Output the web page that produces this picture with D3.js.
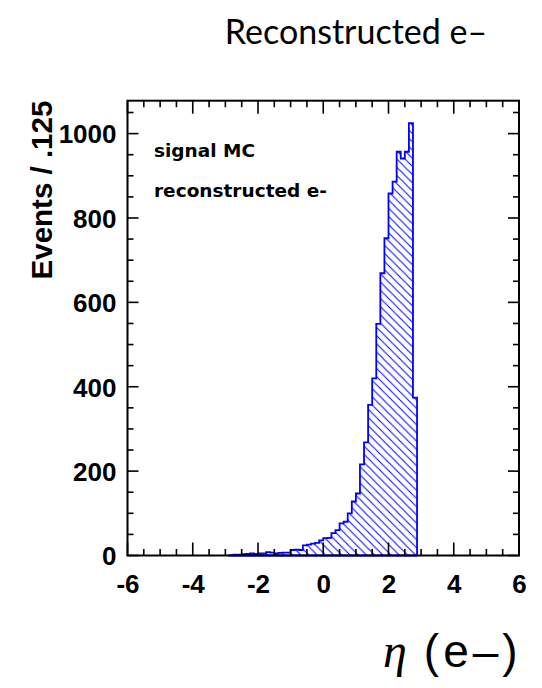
<!DOCTYPE html>
<html>
<head>
<meta charset="utf-8">
<script src="https://cdn.jsdelivr.net/npm/d3@7"></script>
<style>
  html, body { margin: 0; padding: 0; background: #fff; }
  svg { display: block; }
</style>
</head>
<body>
<svg id="chart" width="542" height="688"></svg>
<script>
// ---- data ----
const titleText = "Reconstructed e\u2013";
const yTitle = "Events / .125";
const legendLines = ["signal MC", "reconstructed e-"];
const binWidth = 0.125;
const firstBinLow = -2.875;
const binValues = [
  1, 2, 2, 3, 4, 5, 4, 5, 5, 8, 7, 5, 6, 7, 7, 13, 14, 13,
  24, 26, 28, 30, 36, 41, 42, 53, 60, 76, 80, 100, 128, 147,
  216, 268, 357, 420, 549, 669, 752, 858, 886, 957, 941, 957, 1025, 374
];
const xDomain = [-6, 6];
const yDomain = [0, 1078];
const xMajorTicks = [-6, -4, -2, 0, 2, 4, 6];
const xMinorTicks = d3.range(-6, 6.001, 0.5);
const yMajorTicks = [0, 200, 400, 600, 800, 1000];
const yMinorTicks = d3.range(0, 1051, 50);

// ---- layout ----
const frame = { left: 127.5, right: 519, top: 100.7, bottom: 555.5 };
const svg = d3.select("#chart");
const x = d3.scaleLinear().domain(xDomain).range([frame.left, frame.right]);
const y = d3.scaleLinear().domain(yDomain).range([frame.bottom, frame.top]);

// hatch pattern
const hs = 8.2;
const pat = svg.append("defs").append("pattern")
  .attr("id", "hatch").attr("patternUnits", "userSpaceOnUse")
  .attr("width", hs).attr("height", hs);
pat.append("path")
  .attr("d", `M0,0 L${hs},${hs} M${-hs/2},${hs/2} L${hs/2},${hs*1.5} M${hs/2},${-hs/2} L${hs*1.5},${hs/2}`)
  .attr("stroke", "#0000ff").attr("stroke-width", 1);

// histogram
const bins = binValues.map((v, i) => ({ x0: firstBinLow + i * binWidth, x1: firstBinLow + (i + 1) * binWidth, v }));
let d = `M${x(bins[0].x0)},${y(0)}`;
bins.forEach(b => { d += ` L${x(b.x0)},${y(b.v)} L${x(b.x1)},${y(b.v)}`; });
d += ` L${x(bins[bins.length - 1].x1)},${y(0)} Z`;
svg.append("path").attr("d", d)
  .attr("fill", "url(#hatch)")
  .attr("stroke", "#0000ff").attr("stroke-width", 1.8)
  .attr("stroke-linejoin", "miter");

// ticks (inward, on all four sides)
const tickG = svg.append("g").attr("stroke", "#000").attr("stroke-width", 1.6);
function vTick(v, len, atTop) {
  const px = x(v);
  if (atTop) tickG.append("line").attr("x1", px).attr("x2", px).attr("y1", frame.top).attr("y2", frame.top + len);
  else tickG.append("line").attr("x1", px).attr("x2", px).attr("y1", frame.bottom).attr("y2", frame.bottom - len);
}
function hTick(v, len, atRight) {
  const py = y(v);
  if (atRight) tickG.append("line").attr("x1", frame.right).attr("x2", frame.right - len).attr("y1", py).attr("y2", py);
  else tickG.append("line").attr("x1", frame.left).attr("x2", frame.left + len).attr("y1", py).attr("y2", py);
}
xMinorTicks.forEach(v => { const major = xMajorTicks.includes(v); vTick(v, major ? 13 : 6.5, false); vTick(v, major ? 13 : 6.5, true); });
yMinorTicks.forEach(v => { const major = yMajorTicks.includes(v); hTick(v, major ? 11 : 6, false); hTick(v, major ? 11 : 6, true); });

// frame
svg.append("rect")
  .attr("x", frame.left).attr("y", frame.top)
  .attr("width", frame.right - frame.left).attr("height", frame.bottom - frame.top)
  .attr("fill", "none").attr("stroke", "#000").attr("stroke-width", 2);

// axis labels via d3 axes (ticks hidden)
const fmt = v => String(v);
const xAxis = d3.axisBottom(x).tickValues(xMajorTicks).tickSize(0).tickPadding(19).tickFormat(fmt);
const gx = svg.append("g").attr("transform", `translate(0,${frame.bottom})`).call(xAxis);
gx.select(".domain").remove();
gx.selectAll("text").attr("font-family", "Liberation Sans, Arial, sans-serif")
  .attr("font-weight", "bold").attr("font-size", 26).attr("fill", "#000");

const yAxis = d3.axisLeft(y).tickValues(yMajorTicks).tickSize(0).tickPadding(11).tickFormat(fmt);
const gy = svg.append("g").attr("transform", `translate(${frame.left},0)`).call(yAxis);
gy.select(".domain").remove();
gy.selectAll("text").attr("font-family", "Liberation Sans, Arial, sans-serif")
  .attr("font-weight", "bold").attr("font-size", 26).attr("fill", "#000").attr("dy", "0.36em");

// y title
svg.append("text")
  .attr("transform", `translate(52,${frame.top}) rotate(-90)`)
  .attr("text-anchor", "end")
  .attr("font-family", "Liberation Sans, Arial, sans-serif").attr("font-weight", "bold")
  .attr("font-size", 29.5).attr("fill", "#000")
  .text(yTitle);

// legend-like text
legendLines.forEach((t, i) => {
  svg.append("text")
    .attr("x", 154).attr("y", 157 + i * 40)
    .attr("font-family", "DejaVu Sans, sans-serif").attr("font-weight", "bold")
    .attr("font-size", 18.5).attr("fill", "#000")
    .text(t);
});

// title
svg.append("text")
  .attr("x", 356).attr("y", 44).attr("text-anchor", "middle")
  .attr("font-family", "Lato, Carlito, sans-serif").attr("font-size", 34).attr("fill", "#000")
  .text(titleText);

// x title: eta (e–)
const xt = svg.append("text").attr("x", 383).attr("y", 667).attr("fill", "#000");
xt.append("tspan").attr("font-family", "Liberation Serif, Times New Roman, serif")
  .attr("font-style", "italic").attr("font-size", 48).text("\u03b7");
xt.append("tspan").attr("font-family", "Liberation Sans, Arial, sans-serif")
  .attr("font-size", 46).attr("letter-spacing", 4).attr("dx", 17).text("(e\u2013)");
</script>
</body>
</html>
